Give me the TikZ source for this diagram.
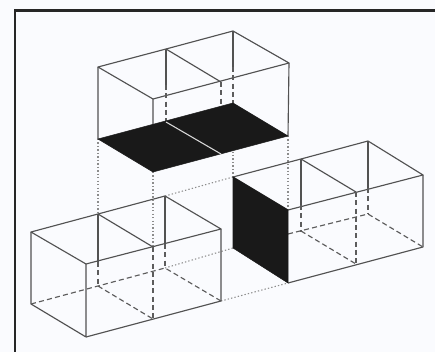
\documentclass[tikz,border=0pt]{standalone}
\definecolor{paper}{RGB}{250,251,254}
\tikzset{
  px/.style={x=0.75pt,y=-0.75pt},
  edge/.style={draw=black!68,line width=0.85pt,line join=round},
  hid/.style={draw=black!64,line width=0.85pt,dash pattern=on 3.8pt off 2.4pt},
  dots/.style={draw=black!45,line width=0.8pt,dash pattern=on 1pt off 1.6pt},
  fillface/.style={fill=black!90,draw=black!90,line width=0.4pt}
}
\begin{document}
\begin{tikzpicture}[px]
\useasboundingbox (0,0) rectangle (435,352);
\fill[paper] (0,0) rectangle (435,352);
\draw[line width=1.9pt,black!85] (15,352)--(15,10.5)--(435,10.5);
\coordinate (TAb) at (98,139);
\coordinate (TBb) at (153,172);
\coordinate (TCb) at (233,103);
\coordinate (TDb) at (288,136);
\coordinate (LBt) at (98,214);
\coordinate (LCt) at (153,247);
\coordinate (LCb) at (153,319);
\coordinate (LDt) at (165,196);
\coordinate (LDb) at (165,268);
\coordinate (LEb) at (221,301);
\coordinate (RAt) at (233,177);
\coordinate (RAb) at (233,248);
\coordinate (RBt) at (288,210);
\coordinate (RBb) at (288,283);
\draw[dots] (TAb)--(LBt) (TBb)--(LCt) (TCb)--(RAt) (TDb)--(RBt);
\draw[dots] (LDt)--(RAt) (LDb)--(RAb) (LEb)--(RBb);
% top box
\draw[edge] (98,67)--(166,49)--(233,31)--(289,63)--(153,99)--cycle;
\draw[edge] (166,49)--(221,82);
\draw[edge] (98,67)--(TAb) (153,99)--(TBb) (289,63)--(TDb);
\draw[edge] (166,49)--(166,85) (233,31)--(233,67);
\draw[hid] (166,85)--(166,122) (233,67)--(TCb) (221,82)--(221,118);
\draw[fillface] (TAb)--(TBb)--(TDb)--(TCb)--cycle;
\draw[black!15,line width=0.8pt] (166,122)--(221,154);
% left box
\draw[edge] (31,232)--(98,214)--(LDt)--(221,229)--(86,264)--cycle;
\draw[edge] (98,214)--(LCt);
\draw[edge] (31,232)--(31,304)--(86,337)--(86,264);
\draw[edge] (86,337)--(LEb)--(221,229);
\draw[edge] (98,214)--(98,262) (LDt)--(165,244);
\draw[hid] (98,262)--(98,286) (165,244)--(LDb);
\draw[hid] (31,304)--(LDb)--(LEb) (98,286)--(LCb);
\draw[hid] (LCt)--(LCb);
% right box
\draw[edge] (RAt)--(301,159)--(368,141)--(423,175)--(RBt)--cycle;
\draw[edge] (301,159)--(356,192);
\draw[edge] (423,175)--(423,247)--(RBb);
\draw[edge] (301,159)--(301,205) (368,141)--(368,188);
\draw[hid] (301,205)--(301,232) (368,188)--(368,214);
\draw[hid] (288,234)--(368,214)--(423,247) (301,231)--(356,264);
\draw[hid] (356,192)--(356,264);
\draw[fillface] (RAt)--(RBt)--(RBb)--(RAb)--cycle;
\end{tikzpicture}
\end{document}
